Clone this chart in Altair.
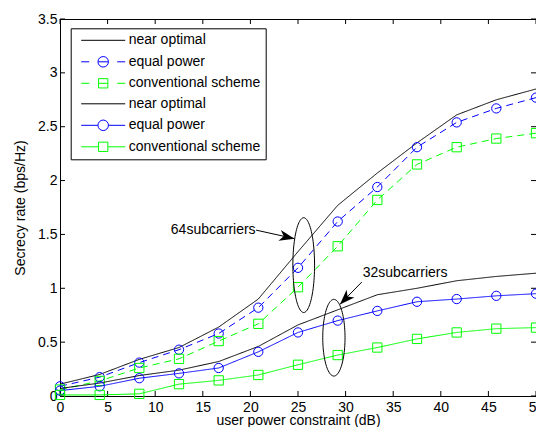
import math
import numpy as np
import pandas as pd
import altair as alt

FONT = "Liberation Sans"
W, H = 476, 377
XMAX, YMAX = 50, 3.5

# ---------------- data ----------------
x_vals = [0, 4.17, 8.33, 12.5, 16.67, 20.83, 25, 29.17, 33.33, 37.5, 41.67, 45.83, 50]

near64 = [0.11, 0.20, 0.34, 0.45, 0.64, 0.90, 1.34, 1.77, 2.07, 2.35, 2.61, 2.75, 2.85]
equal64 = [0.09, 0.175, 0.31, 0.43, 0.58, 0.82, 1.19, 1.62, 1.94, 2.31, 2.54, 2.67, 2.77]
conv64 = [0.06, 0.14, 0.26, 0.345, 0.51, 0.67, 1.01, 1.39, 1.82, 2.15, 2.31, 2.39, 2.44]
near32 = [0.07, 0.12, 0.19, 0.24, 0.32, 0.46, 0.66, 0.80, 0.94, 1.00, 1.07, 1.11, 1.14]
equal32 = [0.05, 0.09, 0.165, 0.21, 0.26, 0.41, 0.59, 0.70, 0.79, 0.875, 0.90, 0.93, 0.95]
conv32 = [0.01, 0.01, 0.02, 0.11, 0.145, 0.195, 0.29, 0.38, 0.45, 0.53, 0.59, 0.625, 0.635]

series_names = ["near optimal", "equal power", "conventional scheme",
                "near optimal ", "equal power ", "conventional scheme "]
series_values = [near64, equal64, conv64, near32, equal32, conv32]
series_markers = ["none", "circle", "square", "none", "circle", "square"]
series_colors = ["#000000", "#0000ff", "#00ff00", "#000000", "#0000ff", "#00ff00"]
series_dash = [[1, 0], [7, 5], [7, 5], [1, 0], [1, 0], [1, 0]]

x_ticks = [0, 5, 10, 15, 20, 25, 30, 35, 40, 45, 50]
y_ticks = [0, 0.5, 1, 1.5, 2, 2.5, 3, 3.5]

# annotations (data coordinates)
ann_text = ["64subcarriers", "32subcarriers"]
ann_text_x = [20.55, 36.25]
ann_text_y = [1.545, 1.14]
ann_text_align = ["right", "center"]
arrow_x0 = [20.6, 31.7]
arrow_y0 = [1.54, 1.058]
arrow_x1 = [24.63, 29.4]
arrow_y1 = [1.461, 0.85]
ell_cx = [25.6, 28.77]
ell_cy = [1.215, 0.541]
ell_rx = [1.14, 1.17]
ell_ry = [0.44, 0.356]

# ---------------- scales / axes ----------------
xscale = alt.Scale(domain=[0, XMAX], nice=False, zero=False)
yscale = alt.Scale(domain=[0, YMAX], nice=False, zero=False)
xaxis = alt.Axis(values=x_ticks, format="~g", title="user power constraint (dB)",
                 ticks=False, labelPadding=4, titlePadding=-1,
                 grid=False, domain=True, labelFlush=False)
yaxis = alt.Axis(values=y_ticks, format="~g", title="Secrecy rate (bps/Hz)",
                 ticks=False, labelPadding=3, titlePadding=10,
                 grid=False, domain=True, labelFlush=False)


def X(field):
    return alt.X(field, scale=xscale, axis=xaxis)


def Y(field):
    return alt.Y(field, scale=yscale, axis=yaxis)


layers = []

# inward ticks on all four sides
xt = pd.DataFrame({"t": x_ticks})
yt = pd.DataFrame({"t": y_ticks})
TK = 5
layers.append(alt.Chart(xt).mark_rule(color="black", strokeWidth=1).encode(
    x=X("t:Q"), y=alt.value(H), y2=alt.value(H - TK)))
layers.append(alt.Chart(xt).mark_rule(color="black", strokeWidth=1).encode(
    x=X("t:Q"), y=alt.value(0), y2=alt.value(TK)))
layers.append(alt.Chart(yt).mark_rule(color="black", strokeWidth=1).encode(
    y=Y("t:Q"), x=alt.value(0), x2=alt.value(TK)))
layers.append(alt.Chart(yt).mark_rule(color="black", strokeWidth=1).encode(
    y=Y("t:Q"), x=alt.value(W), x2=alt.value(W - TK)))

# series: one line layer and one marker layer each
for name, vals, mk, col, dash in zip(series_names, series_values, series_markers,
                                     series_colors, series_dash):
    sdf = pd.DataFrame({"x": x_vals, "y": vals})
    layers.append(alt.Chart(sdf).mark_line(color=col, strokeWidth=1, strokeDash=dash).encode(
        x=X("x:Q"), y=Y("y:Q")))
    if mk != "none":
        layers.append(alt.Chart(sdf).mark_point(shape=mk, filled=False, size=86, color=col,
                                                strokeWidth=1, opacity=1).encode(
            x=X("x:Q"), y=Y("y:Q")))

# ellipses
erows = []
tt = np.linspace(0, 2 * np.pi, 97)
for k in range(len(ell_cx)):
    for i, t in enumerate(tt):
        erows.append({"e": k, "i": i,
                      "ex": ell_cx[k] + ell_rx[k] * np.cos(t),
                      "ey": ell_cy[k] + ell_ry[k] * np.sin(t)})
edf = pd.DataFrame(erows)
layers.append(alt.Chart(edf).mark_line(color="black", strokeWidth=1).encode(
    x=X("ex:Q"), y=Y("ey:Q"), detail="e:N", order="i:Q"))

# arrows
sx, sy = W / XMAX, H / YMAX
adf = pd.DataFrame({"x0": arrow_x0, "y0": arrow_y0, "x1": arrow_x1, "y1": arrow_y1})
adf["ang"] = [math.degrees(math.atan2(-(b1 - b0) * sy, (a1 - a0) * sx))
              for a0, b0, a1, b1 in zip(arrow_x0, arrow_y0, arrow_x1, arrow_y1)]
layers.append(alt.Chart(adf).mark_rule(color="black", strokeWidth=1).encode(
    x=X("x0:Q"), y=Y("y0:Q"), x2="x1:Q", y2="y1:Q"))
HEAD = "M0,0L-2,-0.72L-1.45,0L-2,0.72Z"
layers.append(alt.Chart(adf).mark_point(shape=HEAD, filled=True, color="black",
                                        size=230, opacity=1, strokeWidth=0).encode(
    x=X("x1:Q"), y=Y("y1:Q"), angle=alt.Angle("ang:Q", scale=None)))

tdf = pd.DataFrame({"tx": ann_text_x, "ty": ann_text_y, "label": ann_text, "al": ann_text_align})
for al in ["right", "center"]:
    layers.append(alt.Chart(tdf[tdf.al == al]).mark_text(
        align=al, baseline="middle", font=FONT, fontSize=14, color="black").encode(
        x=X("tx:Q"), y=Y("ty:Q"), text="label:N"))

# legend: only this layer uses a colour scale; glyphs are custom symbol paths (unit = 5px)
C = "M1.05,0A1.05,1.05,0,1,1,-1.05,0A1.05,1.05,0,1,1,1.05,0"
SQ = "M-0.93,-0.93L0.93,-0.93L0.93,0.93L-0.93,0.93Z"
legend_paths = [
    "M-4.4,0L4.4,0",
    "M-4.4,0L-2.8,0M-1,0L1,0M2.8,0L4.4,0" + C,
    "M-4.4,0L-2.8,0M-0.93,0L0.93,0M2.8,0L4.4,0" + SQ,
    "M-4.4,0L4.4,0",
    "M-4.4,0L-1.05,0M1.05,0L4.4,0" + C,
    "M-4.4,0L-0.93,0M0.93,0L4.4,0" + SQ,
]
leg = alt.Legend(
    orient="none", legendX=10.7, legendY=9.3, title=None,
    strokeColor="black", fillColor="white", padding=5, cornerRadius=0,
    symbolSize=100, symbolStrokeWidth=1, symbolOffset=20.5, labelOffset=18.5,
    rowPadding=6.5, labelFont=FONT, labelFontSize=14, labelColor="black",
    labelLimit=300,
)
legend_df = pd.DataFrame({"series": series_names})
layers.append(alt.Chart(legend_df).mark_point(filled=False, strokeWidth=1, opacity=1).encode(
    x=X("lx:Q"), y=Y("ly:Q"),
    color=alt.Color("series:N", scale=alt.Scale(domain=series_names, range=series_colors), legend=leg),
    shape=alt.Shape("series:N", scale=alt.Scale(domain=series_names, range=legend_paths), legend=leg),
))

chart = alt.layer(*layers).properties(
    width=W, height=H,
    autosize=alt.AutoSizeParams(type="none"),
    padding={"left": 52, "top": 11, "right": 0, "bottom": 31},
    background="white",
).configure_view(
    stroke="black", strokeWidth=1
).configure_axis(
    domainColor="black", domainWidth=1, labelColor="black", titleColor="black",
    labelFont=FONT, titleFont=FONT, labelFontSize=14, titleFontSize=14,
    titleFontWeight="normal", grid=False
)

chart.save("out.html", embed_options={"renderer": "svg", "actions": False})
